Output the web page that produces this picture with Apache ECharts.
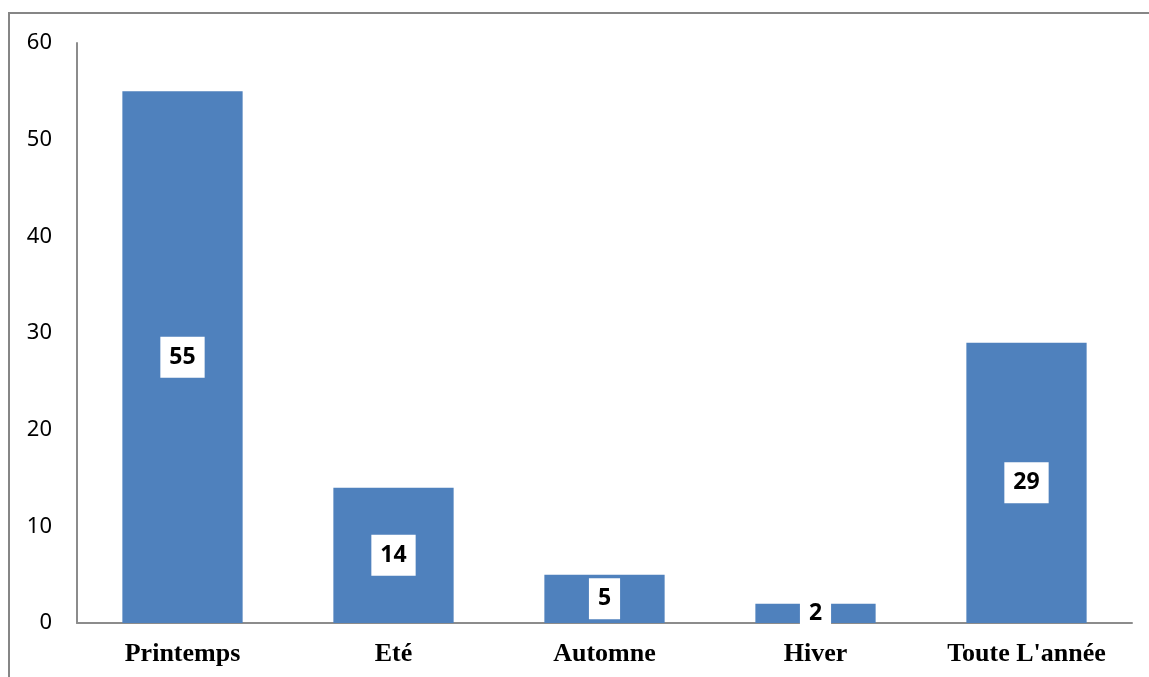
<!DOCTYPE html>
<html><head><meta charset="utf-8">
<script src="https://cdn.jsdelivr.net/npm/echarts@6/dist/echarts.min.js"></script>
<style>html,body{margin:0;padding:0;background:#fff}#c{width:1149px;height:677px}</style>
</head><body><div id="c"></div>
<script>
const categories = ["Printemps", "Eté", "Automne", "Hiver", "Toute L'année"];
const values = [55, 14, 5, 2, 29];
const yTicks = [0, 10, 20, 30, 40, 50, 60];

const chart = echarts.init(document.getElementById('c'), null, {renderer: 'canvas'});
chart.setOption({
  animation: false,
  backgroundColor: '#fff',
  graphic: [{
    type: 'rect',
    shape: {x: 9, y: 13, width: 1300, height: 800},
    style: {fill: 'none', stroke: '#868686', lineWidth: 2}
  }],
  grid: {left: 77, right: 17, top: 43, bottom: 54},
  xAxis: {
    type: 'category', data: categories,
    axisLine: {lineStyle: {color: '#8c8c8c', width: 2}},
    axisTick: {show: false},
    axisLabel: {margin: 18, color: '#000', fontFamily: 'Liberation Serif', fontWeight: 'bold', fontSize: 26}
  },
  yAxis: {
    type: 'value', min: yTicks[0], max: yTicks[yTicks.length - 1], interval: 10,
    axisLine: {show: true, lineStyle: {color: '#8c8c8c', width: 2}},
    axisTick: {show: false},
    splitLine: {show: false},
    axisLabel: {margin: 25, color: '#000', fontFamily: 'Noto Sans', fontSize: 22}
  },
  series: [{
    type: 'bar', data: values, barWidth: '57%',
    itemStyle: {color: '#4f81bd'},
    label: {
      show: true, position: 'inside', color: '#000',
      fontFamily: 'Noto Sans', fontWeight: 'bold', fontSize: 23,
      backgroundColor: '#fff', padding: [9, 9, 9, 9]
    }
  }]
});
</script></body></html>
